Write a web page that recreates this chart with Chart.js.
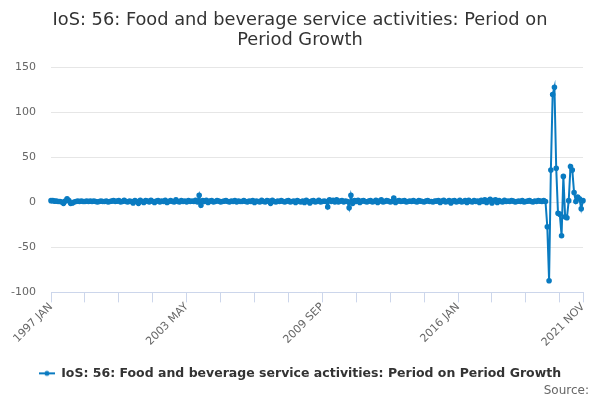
<!DOCTYPE html>
<html>
<head>
<meta charset="utf-8">
<script src="https://cdn.jsdelivr.net/npm/chart.js@4.4.1/dist/chart.umd.min.js"></script>
<style>
html, body { margin: 0; padding: 0; background: #fff; }
#wrap { width: 600px; height: 400px; }
</style>
</head>
<body>
<div id="wrap"><canvas id="chart" width="600" height="400"></canvas></div>
<script>
// monthly series, 1997 JAN .. 2021 NOV
const startYear = 1997
const endYear = 2021
const lastMonth = 11 // NOV
const monthNames = ["JAN","FEB","MAR","APR","MAY","JUN","JUL","AUG","SEP","OCT","NOV","DEC"]

// x axis labels that are shown
const tickLabels = ["1997 JAN","2003 MAY","2009 SEP","2016 JAN","2021 NOV"]
const tickEvery = 19 // months between tick marks

const yTicks = [-100, -50, 0, 50, 100, 150]

// period on period growth (%), one row per year
const growth = [
  /* 1997 */ 2, 2, 1.5, 1.5, 1, 1, 0.5, -1, 1.5, 4, 2, -1,
  /* 1998 */ -0.5, 0.5, 1, 1.5, 1, 1.5, 1, 1, 1.5, 1, 1.5, 1,
  /* 1999 */ 1.5, 1, 0.5, 1, 1.5, 1, 1, 1.5, 0.5, 1, 1.5, 2,
  /* 2000 */ 1, 1.5, 2, 0.5, 1, 2.5, 1, 0.5, 1.5, 1, -0.5, 2,
  /* 2001 */ 1, -1, 2.5, 1, 0, 2, 1.5, 0.5, 2.5, 1, 0, 1.5,
  /* 2002 */ 2, 0.5, 1.5, 1, 2.5, 0, 1, 2, 1, 0.5, 3, 1,
  /* 2003 */ 0.5, 2, 1, 1.5, 0.5, 2, 1, 1.5, 1, 2.5, 0.5, 8,
  /* 2004 */ -3, 2, 1, 2.5, 0, 1.5, 2, 0.5, 1, 2, 1.5, 0.5,
  /* 2005 */ 1, 1.5, 2, 1, 0.5, 1.5, 1, 2, 0.5, 1.5, 1, 1,
  /* 2006 */ 2, 1, 0.5, 1.5, 1, 2, 0, 1.5, 1, 0.5, 2.5, 1,
  /* 2007 */ 0.5, 2, 1.5, -1, 2.5, 1, 0.5, 1.5, 1, 2, 1, 0.5,
  /* 2008 */ 1.5, 2, 0.5, 1, 1.5, 0, 2, 1, 0.5, 1.5, 0, 2.5,
  /* 2009 */ 1, -0.5, 1.5, 2, 0.5, 1, 2.5, 0.5, 1, 1.5, 1, -5,
  /* 2010 */ 3, 1, 2.5, 0.5, 3, 0.5, 1.5, 2, 0.5, 1.5, 1, -6,
  /* 2011 */ 8, -1, 2, 1, 2.5, 0, 1.5, 2, 1, 0.5, 1.5, 2,
  /* 2012 */ 0.5, 1, 2.5, 0, 1.5, 3, 0.5, 1, 2, 1.5, 0.5, 1,
  /* 2013 */ 5, 0, 1.5, 2, 1, 1.5, 2, 0.5, 1, 1.5, 1, 2,
  /* 2014 */ 1, 0.5, 2, 1.5, 1, 0.5, 1.5, 2, 1, 1, 0.5, 1.5,
  /* 2015 */ 1.5, 2, 0, 1.5, 2.5, 0.5, 1, 2, -0.5, 1.5, 2, 0.5,
  /* 2016 */ 1, 2.5, 0.5, 1, 2, 0, 2.5, 1, 0.5, 2, 1, 1.5,
  /* 2017 */ 0, 2.5, 1, 3, 0, 2, 3.5, -0.5, 2, 3, 0, 2,
  /* 2018 */ 1, 0.5, 2.5, 1, 1.5, 1, 2, 1.5, 0.5, 1, 1.5, 1,
  /* 2019 */ 2, 0.5, 1, 1.5, 2, 1, 0.5, 1.5, 1, 2, 1.5, 1,
  /* 2020 */ 2, 1, -27, -87, 36, 120, 128, 38, -12, -13, -37, 29,
  /* 2021 */ -16, -17, 2, 40, 36, 11, 1, 6, 4, -7, 2
]

const seriesName = "IoS: 56: Food and beverage service activities: Period on Period Growth"

let labels = []
for (let y = startYear; y <= endYear; y++) {
  for (let m = 0; m < 12; m++) {
    if (y == endYear && m >= lastMonth) break
    labels.push(y + " " + monthNames[m])
  }
}

const blue = "#0a7bc1"
const font = "'DejaVu Sans', sans-serif"

/* legend symbol: short line with a dot */
const sym = document.createElement("canvas")
sym.width = 16
sym.height = 8
const sc = sym.getContext("2d")
sc.strokeStyle = blue
sc.lineWidth = 2
sc.beginPath()
sc.moveTo(0, 4)
sc.lineTo(16, 4)
sc.stroke()
sc.fillStyle = blue
sc.beginPath()
sc.arc(8, 4, 2.5, 0, Math.PI * 2)
sc.fill()

new Chart(document.getElementById("chart"), {
  type: "line",
  data: {
    labels: labels,
    datasets: [{
      label: seriesName,
      data: growth,
      borderColor: blue,
      backgroundColor: blue,
      borderWidth: 2,
      pointRadius: 1.8,
      pointHoverRadius: 3,
      pointStyle: "circle",
      tension: 0
    }]
  },
  options: {
    responsive: false,
    animation: false,
    layout: { padding: { left: 11, right: 11, top: 0, bottom: 0 } },
    plugins: {
      title: {
        display: true,
        text: ["IoS: 56: Food and beverage service activities: Period on", "Period Growth"],
        color: "#333333",
        font: { family: font, size: 17.8, weight: "normal", lineHeight: 1.14 },
        padding: { top: 10, bottom: 17 }
      },
      subtitle: {
        display: true,
        position: "bottom",
        align: "end",
        text: "Source:",
        color: "#666666",
        font: { family: font, size: 12, weight: "normal" },
        padding: { top: -6, bottom: 2 }
      },
      legend: {
        position: "bottom",
        labels: {
          color: "#333333",
          font: { family: font, size: 12.5, weight: "bold" },
          usePointStyle: true,
          pointStyle: sym,
          pointStyleWidth: 16,
          padding: 3
        }
      },
      tooltip: { enabled: false }
    },
    scales: {
      x: {
        type: "category",
        offset: false,
        border: { color: "#ccd6eb" },
        grid: {
          drawOnChartArea: false,
          drawTicks: true,
          tickLength: 10,
          color: "#ccd6eb"
        },
        afterBuildTicks: function(axis) {
          let t = []
          for (let i = 0; i < labels.length; i += tickEvery) t.push({ value: i })
          t.push({ value: labels.length - 1 })
          axis.ticks = t
        },
        afterFit: function(axis) {
          // rotated first label may hang into the margin, like the original
          axis.paddingLeft = 0
          axis.paddingRight = 17
          axis.height += 17
        },
        ticks: {
          autoSkip: false,
          minRotation: 45,
          maxRotation: 45,
          padding: -2,
          color: "#666666",
          font: { family: font, size: 11 },
          callback: function(value) {
            const lab = this.getLabelForValue(value)
            return tickLabels.includes(lab) ? lab : ""
          }
        }
      },
      y: {
        min: yTicks[0],
        max: yTicks[yTicks.length - 1],
        border: { display: false },
        grid: { color: "#e6e6e6", drawTicks: false },
        afterBuildTicks: function(axis) {
          axis.ticks = yTicks.map(v => ({ value: v }))
        },
        afterFit: function(axis) {
          axis.width = 40
        },
        ticks: {
          padding: 15,
          color: "#666666",
          font: { family: font, size: 11 }
        }
      }
    }
  }
})
</script>
</body>
</html>
